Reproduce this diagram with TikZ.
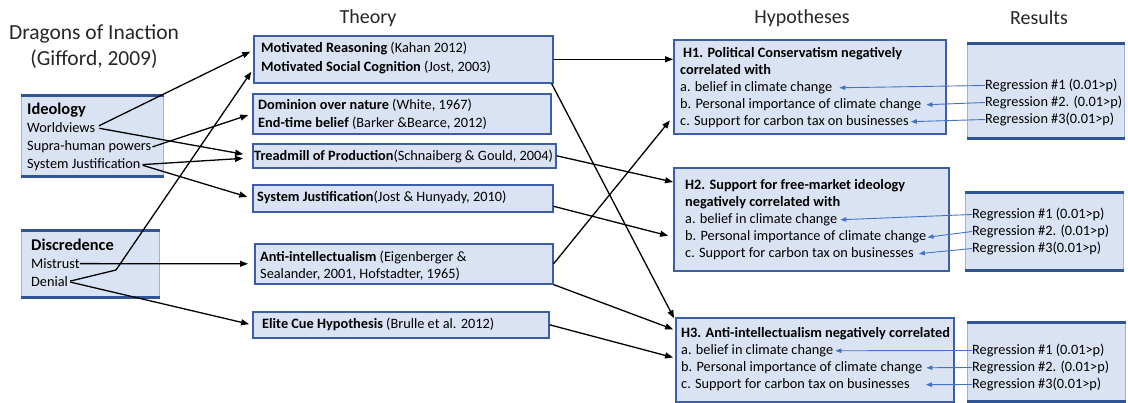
\documentclass[tikz,border=0pt]{standalone}
\usepackage{fontspec}
\setmainfont{Carlito}
\usetikzlibrary{arrows.meta}
\definecolor{boxfill}{HTML}{DAE3F3}
\definecolor{boxline}{HTML}{3B5EA6}
\definecolor{barline}{HTML}{2F5597}
\definecolor{sideline}{HTML}{9DB3DD}
\definecolor{resline}{HTML}{4472C4}
\newcommand{\boxfont}{\fontsize{14.3}{17.5}\selectfont}
\newcommand{\capfont}{\fontsize{16.4}{19}\selectfont\bfseries}
\newcommand{\headfont}{\fontsize{20}{24}\selectfont}
\newcommand{\drawbars}[1]{\draw[barline, line width=3pt] (#1.north west) -- (#1.north east) (#1.south west) -- (#1.south east);}
\tikzset{
  plainbox/.style={draw=boxline, line width=1.6pt, fill=boxfill, anchor=north west, inner sep=0pt},
  barbox/.style={draw=sideline, line width=0.8pt, fill=boxfill, anchor=north west, inner sep=0pt},
  itemtext/.style={anchor=base west, inner sep=0pt, font=\boxfont},
  captext/.style={anchor=base west, inner sep=0pt, font=\capfont},
  heading/.style={inner sep=0pt, font=\headfont, text=black!85},
  linkarrow/.style={line width=1.3pt, -{Triangle[length=8pt,width=6pt]}},
  resarrow/.style={draw=resline, line width=0.9pt, -{Triangle[length=6pt,width=4.5pt]}}
}

\begin{document}
\begin{tikzpicture}[x=1pt,y=-1pt]
			%%%%% START %%%%%
			\useasboundingbox (0,0) rectangle (1128,403);
			
			\node[heading, font=\fontsize{21.5}{26}\selectfont, align=center] (dragons) at (94,47) {Dragons of Inaction\\(Gifford, 2009)};
			\node[heading] (theory) at (368,18) {Theory};
			\node[heading] (hypo) at (802,18) {Hypotheses};
			\node[heading] (results) at (1039,18) {Results};
			
			% dragons
			\node[barbox, minimum width=142, minimum height=80] (ideo) at (21,96) {};
			\drawbars{ideo}
			\node[captext] (ideot) at (27,115) {Ideology};
			\node[itemtext] (wv) at (27,132.5) {Worldviews};
			\node[itemtext] (sup) at (27,151) {Supra-human powers};
			\node[itemtext] (sj) at (27,168.5) {System Justification};
			
			\node[barbox, minimum width=138, minimum height=66] (disc) at (21,231) {};
			\drawbars{disc}
			\node[captext] (disct) at (31,251) {Discredence};
			\node[itemtext] (mis) at (31,268.5) {Mistrust};
			\node[itemtext] (den) at (31,286.5) {Denial};
			
			% theory
			\node[plainbox, minimum width=299, minimum height=47] (t1) at (253,35) {};
			\node[itemtext] (t1a) at (261,52.5) {\textbf{Motivated Reasoning} (Kahan 2012)};
			\node[itemtext] (t1b) at (261,71.5) {\textbf{Motivated Social Cognition} (Jost, 2003)};
			
			\node[plainbox, minimum width=298, minimum height=40] (t2) at (252,93) {};
			\node[itemtext] (t2a) at (258,109.5) {\textbf{Dominion over nature} (White, 1967)};
			\node[itemtext] (t2b) at (258,127.5) {\textbf{End-time belief} (Barker \&Bearce, 2012)};
			
			\node[plainbox, minimum width=303, minimum height=24] (t3) at (252,143) {};
			\node[itemtext] (t3a) at (254,161) {\textbf{Treadmill of Production}(Schnaiberg \& Gould, 2004)};
			
			\node[plainbox, minimum width=300, minimum height=27] (t4) at (252,184) {};
			\node[itemtext] (t4a) at (257,201.5) {\textbf{System Justification}(Jost \& Hunyady, 2010)};
			
			\node[plainbox, minimum width=298, minimum height=40] (t5) at (254,243) {};
			\node[itemtext] (t5a) at (260,261.5) {\textbf{Anti-intellectualism} (Eigenberger \&};
			\node[itemtext] (t5b) at (260,278.5) {Sealander, 2001, Hofstadter, 1965)};
			
			\node[plainbox, minimum width=296, minimum height=26] (t6) at (252,311) {};
			\node[itemtext] (t6a) at (262,328.5) {\textbf{Elite Cue Hypothesis} (Brulle et al. 2012)};
			
			% hypotheses
			\node[plainbox, minimum width=272, minimum height=94] (h1) at (673,39) {};
			\node[itemtext, font=\boxfont\bfseries] (h1t) at (683,57.5) {H1. Political Conservatism negatively};
			\node[itemtext, font=\boxfont\bfseries] (h1u) at (680,74.5) {correlated with};
			\node[itemtext] (h1a) at (680,91.5) {a. belief in climate change};
			\node[itemtext] (h1b) at (680,108.5) {b. Personal importance of climate change};
			\node[itemtext] (h1c) at (680,125.5) {c. Support for carbon tax on businesses};
			
			\node[plainbox, minimum width=275, minimum height=103] (h2) at (673,167) {};
			\node[itemtext, font=\boxfont\bfseries] (h2t) at (685,189.5) {H2. Support for free-market ideology};
			\node[itemtext, font=\boxfont\bfseries] (h2u) at (685,206.5) {negatively correlated with};
			\node[itemtext] (h2a) at (685,223.5) {a. belief in climate change};
			\node[itemtext] (h2b) at (685,241) {b. Personal importance of climate change};
			\node[itemtext] (h2c) at (685,257.5) {c. Support for carbon tax on businesses};
			
			\node[plainbox, minimum width=278, minimum height=84] (h3) at (675,317) {};
			\node[itemtext, font=\boxfont\bfseries] (h3t) at (681,337.5) {H3. Anti-intellectualism negatively correlated};
			\node[itemtext] (h3a) at (681,354.5) {a. belief in climate change};
			\node[itemtext] (h3b) at (681,371.5) {b. Personal importance of climate change};
			\node[itemtext] (h3c) at (681,388.5) {c. Support for carbon tax on businesses};
			
			% results
			\node[barbox, minimum width=157, minimum height=94] (r1) at (967,44) {};
			\drawbars{r1}
			\node[itemtext] (r1a) at (985,89.5) {Regression \#1 (0.01>p)};
			\node[itemtext] (r1b) at (985,106.5) {Regression \#2. (0.01>p)};
			\node[itemtext] (r1c) at (985,123.5) {Regression \#3(0.01>p)};
			
			\node[barbox, minimum width=158, minimum height=77] (r2) at (965,193) {};
			\drawbars{r2}
			\node[itemtext] (r2a) at (972,218.5) {Regression \#1 (0.01>p)};
			\node[itemtext] (r2b) at (972,235.5) {Regression \#2. (0.01>p)};
			\node[itemtext] (r2c) at (972,252.5) {Regression \#3(0.01>p)};
			
			\node[barbox, minimum width=158, minimum height=78] (r3) at (967,323) {};
			\drawbars{r3}
			\node[itemtext] (r3a) at (972,354.5) {Regression \#1 (0.01>p)};
			\node[itemtext] (r3b) at (972,371.5) {Regression \#2. (0.01>p)};
			\node[itemtext] (r3c) at (972,388.5) {Regression \#3(0.01>p)};
			
			% dragons -> theory
			\coordinate (kink) at (116,270);
			\draw[linkarrow, shorten <=4pt, shorten >=3pt] (wv.east) -- ([yshift=9]t1.west);
			\draw[linkarrow, shorten <=4pt, shorten >=9pt] (wv.east) -- (t3.west);
			\draw[linkarrow, shorten <=1pt, shorten >=4pt] (sup.east) -- (t2.west);
			\draw[linkarrow, shorten <=2pt, shorten >=9pt] (sj.east) -- ([yshift=-2]t3.west);
			\draw[linkarrow, shorten <=2pt, shorten >=5pt] (sj.east) -- (t4.west);
			\draw[linkarrow, shorten >=6pt] (mis.east) -- (t5.west);
			\draw[linkarrow, shorten <=2pt, shorten >=3pt] (den.east) -- (kink) -- ([yshift=-10]t1.west);
			\draw[linkarrow, shorten <=2pt, shorten >=3pt] (den.east) -- (t6.west);
			
			% theory -> hypotheses
			\draw[linkarrow] (t1.east) -- (t1.east -| h1.west);
			\draw[linkarrow, shorten >=2pt] ([xshift=-2]t1.south east) -- ([yshift=-3]h3.north west);
			\draw[linkarrow] (t3.east) -- ([yshift=-15]h2.north west);
			\draw[linkarrow, shorten >=5pt] ([yshift=-8]t4.east) -- ([yshift=-70]h2.north west);
			\draw[linkarrow, shorten >=5pt] (t5.east) -- ([yshift=18]h1.south west);
			\draw[linkarrow, shorten >=2pt] (t5.south east) -- ([yshift=-13]h3.north west);
			\draw[linkarrow, shorten >=2pt] (t6.east) -- ([yshift=-41]h3.north west);
			
			% results -> hypotheses
			\draw[resarrow] (r1a.west) -- ([xshift=7]h1a.east);
			\draw[resarrow] (r1b.west) -- ([xshift=5]h1b.east);
			\draw[resarrow] (r1c.west) -- ([xshift=2]h1c.east);
			\draw[resarrow] (r2a.west) -- ([xshift=3]h2a.east);
			\draw[resarrow] (r2b.west) -- ([xshift=1]h2b.east);
			\draw[resarrow] (r2c.west) -- ([xshift=5]h2c.east);
			\draw[resarrow] (r3a.west) -- ([xshift=2]h3a.east);
			\draw[resarrow] (r3b.west) -- ([xshift=4]h3b.east);
			\draw[resarrow] (r3c.west) -- ([xshift=16]h3c.east);
			
			%%%%% END %%%%%
\end{tikzpicture}
\end{document}
